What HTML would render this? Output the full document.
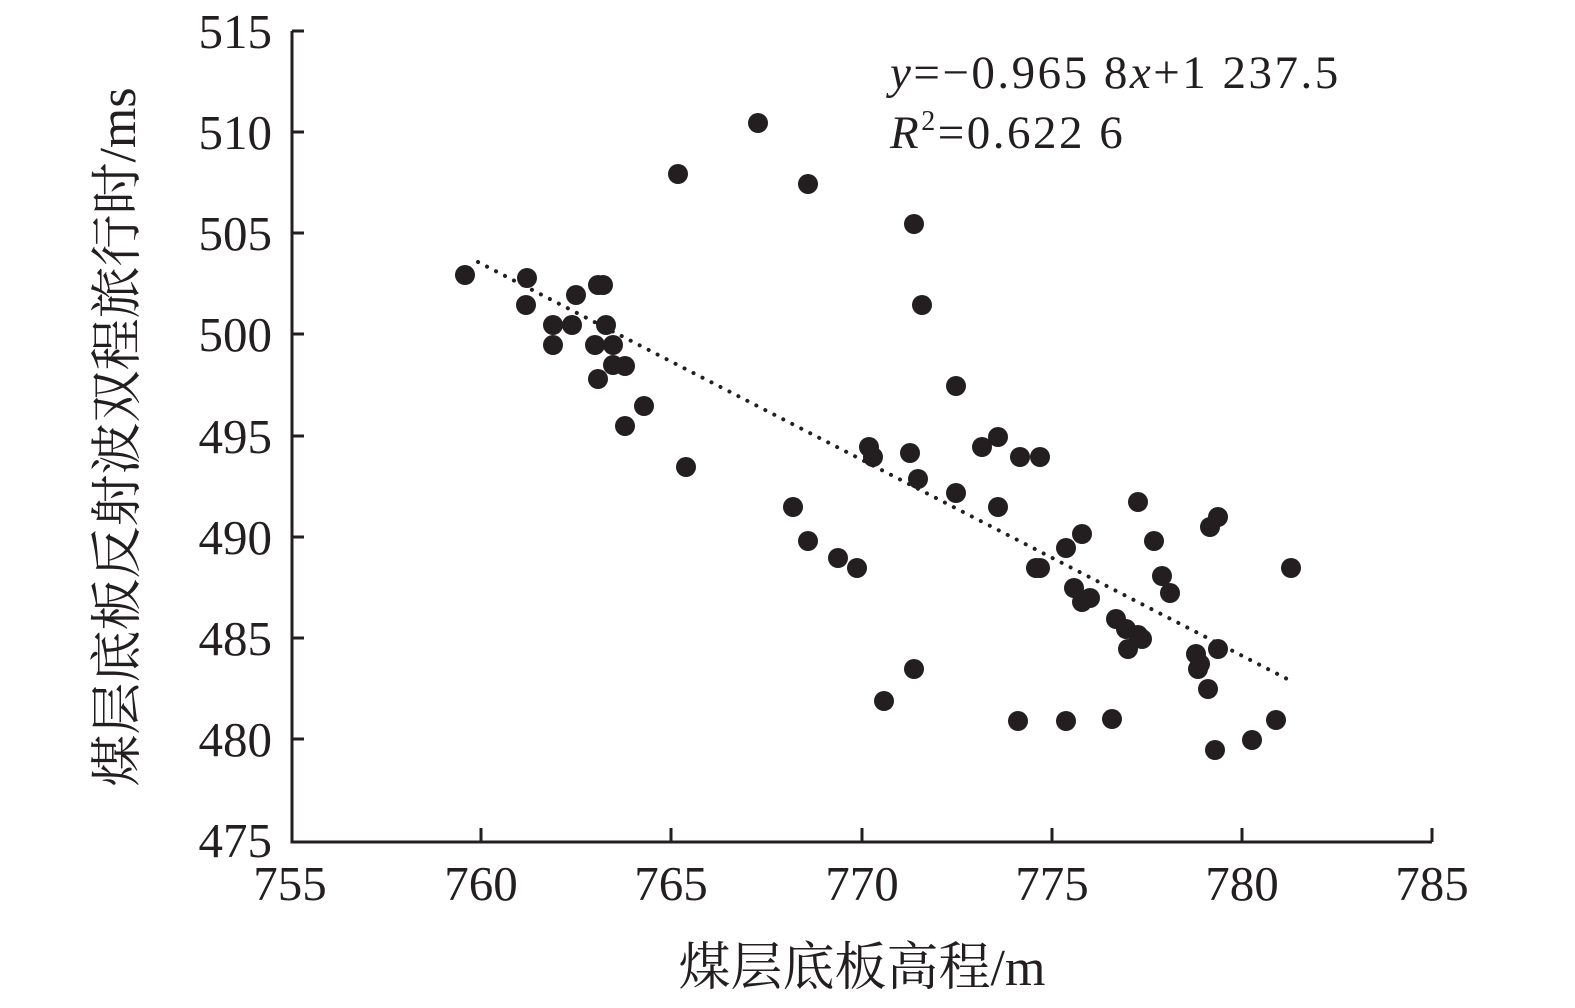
<!DOCTYPE html><html><head><meta charset="utf-8"><style>body{margin:0;background:#fff}svg{display:block}</style></head><body>
<svg width="1575" height="1008" xmlns="http://www.w3.org/2000/svg" font-family="Liberation Serif, Noto Serif CJK SC, serif">
<g stroke="#231f20" stroke-width="3" fill="none">
<path d="M292 31 V842 H1432"/>
<path d="M481 842v-14M671 842v-14M862 842v-14M1052 842v-14M1242 842v-14M1432 842v-14"/>
<path d="M292 31h12M292 132h12M292 233h12M292 334h12M292 436h12M292 537h12M292 638h12M292 739h12"/>
</g>
<g font-size="49" fill="#231f20" text-anchor="end">
<text x="272" y="48">515</text><text x="272" y="149">510</text><text x="272" y="250">505</text><text x="272" y="351">500</text><text x="272" y="453">495</text><text x="272" y="554">490</text><text x="272" y="655">485</text><text x="272" y="756">480</text><text x="272" y="857">475</text>
</g>
<g font-size="49" fill="#231f20" text-anchor="middle">
<text x="290" y="900">755</text><text x="481" y="900">760</text><text x="671" y="900">765</text><text x="862" y="900">770</text><text x="1052" y="900">775</text><text x="1242" y="900">780</text><text x="1432" y="900">785</text>
<text x="862" y="985" font-size="52">煤层底板高程/m</text>
<text transform="translate(135,437) rotate(-90)" font-size="52">煤层底板反射波双程旅行时/ms</text>
</g>
<g font-size="47" fill="#231f20" letter-spacing="2.5">
<text x="890" y="88"><tspan font-style="italic">y</tspan>=−0.965 8<tspan font-style="italic">x</tspan>+1 237.5</text>
<text x="890" y="148"><tspan font-style="italic">R</tspan><tspan font-size="28" dy="-18">2</tspan><tspan dy="18">=0.622 6</tspan></text>
</g>
<line x1="478" y1="262" x2="1293" y2="682" stroke="#231f20" stroke-width="4" stroke-dasharray="0.1 10" stroke-linecap="round"/>
<g fill="#231f20">
<circle cx="465" cy="275" r="10"/><circle cx="527" cy="278" r="10"/><circle cx="526" cy="305" r="10"/><circle cx="576" cy="295" r="10"/><circle cx="598" cy="285" r="10"/><circle cx="603" cy="285" r="10"/><circle cx="553" cy="325" r="10"/><circle cx="572" cy="325" r="10"/><circle cx="553" cy="345" r="10"/><circle cx="595" cy="345" r="10"/><circle cx="606" cy="325" r="10"/><circle cx="613" cy="345" r="10"/><circle cx="613" cy="365" r="10"/><circle cx="625" cy="366" r="10"/><circle cx="598" cy="379" r="10"/><circle cx="644" cy="406" r="10"/><circle cx="625" cy="426" r="10"/><circle cx="686" cy="467" r="10"/><circle cx="678" cy="174" r="10"/><circle cx="758" cy="123" r="10"/><circle cx="808" cy="184" r="10"/><circle cx="914" cy="224" r="10"/><circle cx="922" cy="305" r="10"/><circle cx="956" cy="386" r="10"/><circle cx="869" cy="447" r="10"/><circle cx="873" cy="457" r="10"/><circle cx="910" cy="453" r="10"/><circle cx="918" cy="479" r="10"/><circle cx="956" cy="493" r="10"/><circle cx="982" cy="447" r="10"/><circle cx="998" cy="437" r="10"/><circle cx="1020" cy="457" r="10"/><circle cx="1040" cy="457" r="10"/><circle cx="998" cy="507" r="10"/><circle cx="793" cy="507" r="10"/><circle cx="808" cy="541" r="10"/><circle cx="838" cy="558" r="10"/><circle cx="857" cy="568" r="10"/><circle cx="884" cy="701" r="10"/><circle cx="914" cy="669" r="10"/><circle cx="1018" cy="721" r="10"/><circle cx="1066" cy="721" r="10"/><circle cx="1112" cy="719" r="10"/><circle cx="1066" cy="548" r="10"/><circle cx="1082" cy="534" r="10"/><circle cx="1036" cy="568" r="10"/><circle cx="1040" cy="568" r="10"/><circle cx="1074" cy="588" r="10"/><circle cx="1082" cy="602" r="10"/><circle cx="1090" cy="598" r="10"/><circle cx="1116" cy="619" r="10"/><circle cx="1126" cy="629" r="10"/><circle cx="1138" cy="635" r="10"/><circle cx="1142" cy="639" r="10"/><circle cx="1128" cy="649" r="10"/><circle cx="1138" cy="502" r="10"/><circle cx="1154" cy="541" r="10"/><circle cx="1162" cy="576" r="10"/><circle cx="1170" cy="593" r="10"/><circle cx="1196" cy="654" r="10"/><circle cx="1200" cy="664" r="10"/><circle cx="1198" cy="669" r="10"/><circle cx="1208" cy="689" r="10"/><circle cx="1218" cy="649" r="10"/><circle cx="1210" cy="527" r="10"/><circle cx="1218" cy="517" r="10"/><circle cx="1291" cy="568" r="10"/><circle cx="1276" cy="720" r="10"/><circle cx="1252" cy="740" r="10"/><circle cx="1215" cy="750" r="10"/>
</g>
</svg>
</body></html>
